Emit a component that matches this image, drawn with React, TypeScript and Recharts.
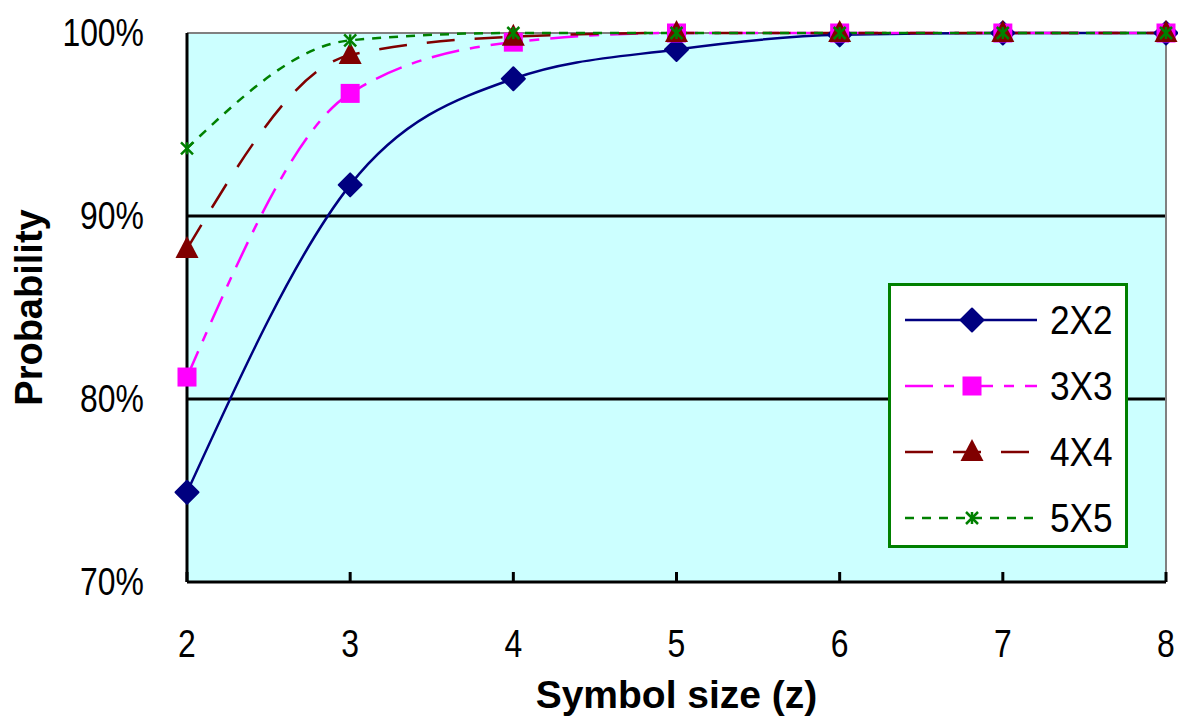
import {
	LineChart,
	Line,
	XAxis,
	YAxis,
	CartesianGrid,
	ReferenceLine,
	Legend,
} from "recharts";

const sizes = [2, 3, 4, 5, 6, 7, 8];
const p2x2 = [0.749, 0.917, 0.975, 0.991, 0.999, 1.0, 1.0];
const p3x3 = [0.812, 0.967, 0.995, 1.0, 1.0, 1.0, 1.0];
const p4x4 = [0.882, 0.988, 0.998, 1.0, 1.0, 1.0, 1.0];
const p5x5 = [0.937, 0.996, 1.0, 1.0, 1.0, 1.0, 1.0];
const yTicks = [0.7, 0.8, 0.9, 1.0];
const seriesNames = ["2X2", "3X3", "4X4", "5X5"];

const data = sizes.map((z, i) => ({
	z,
	s2: p2x2[i],
	s3: p3x3[i],
	s4: p4x4[i],
	s5: p5x5[i],
}));

const NAVY = "#000080";
const MAGENTA = "#FF00FF";
const MAROON = "#800000";
const GREEN = "#008000";
const font = "'Liberation Sans', Arial, sans-serif";

// the original labels are a bit narrower than Arial, so squeeze them
const squeeze = (x: number, y: number, k = 0.84) =>
	`translate(${x} ${y}) scale(${k} 1) translate(${-x} ${-y})`;

function XTick({ x, y, payload }: any) {
	return (
		<text
			x={x}
			y={y}
			dy="0.71em"
			textAnchor="middle"
			fontFamily={font}
			fontSize={38}
			fill="#000"
			transform={squeeze(x, y)}
		>
			{payload.value}
		</text>
	);
}

function YTick({ x, y, payload }: any) {
	return (
		<text
			x={x}
			y={y}
			dy="0.355em"
			textAnchor="end"
			fontFamily={font}
			fontSize={38}
			fill="#000"
			transform={squeeze(x, y)}
		>
			{`${Math.round(payload.value * 100)}%`}
		</text>
	);
}

function Diamond({ cx, cy }: { cx: number; cy: number }) {
	const r = 11.5;
	return (
		<polygon
			points={`${cx},${cy - r} ${cx + r},${cy} ${cx},${cy + r} ${cx - r},${cy}`}
			fill={NAVY}
			stroke={NAVY}
			strokeWidth={2}
			strokeLinejoin="round"
		/>
	);
}

function Square({ cx, cy }: { cx: number; cy: number }) {
	return <rect x={cx - 9.5} y={cy - 9.5} width={19} height={19} fill={MAGENTA} />;
}

function Triangle({ cx, cy }: { cx: number; cy: number }) {
	return (
		<polygon
			points={`${cx},${cy - 13} ${cx + 11.5},${cy + 9} ${cx - 11.5},${cy + 9}`}
			fill={MAROON}
		/>
	);
}

function Star({ cx, cy }: { cx: number; cy: number }) {
	const r = 6;
	return (
		<g stroke={GREEN} strokeWidth={2.5}>
			<line x1={cx - r} y1={cy - r} x2={cx + r} y2={cy + r} />
			<line x1={cx - r} y1={cy + r} x2={cx + r} y2={cy - r} />
			<line x1={cx} y1={cy - r} x2={cx} y2={cy + r} />
		</g>
	);
}

const markers = [Diamond, Square, Triangle, Star];
const colors = [NAVY, MAGENTA, MAROON, GREEN];
const dashes = ["", "28 11 10 11", "28 20", "9 8"];

function makeDot(i: number) {
	const Marker = markers[i];
	return (props: any) => (
		<Marker key={`m${i}-${props.index}`} cx={props.cx} cy={props.cy} />
	);
}

function LegendBox() {
	const rows = [37, 103, 169, 235];
	return (
		<div
			style={{
				width: 240,
				height: 265,
				boxSizing: "border-box",
				border: `3px solid ${GREEN}`,
				background: "#fff",
			}}
		>
			<svg width={234} height={259} style={{ display: "block" }}>
				{seriesNames.map((name, i) => {
					const Marker = markers[i];
					const y = rows[i] - 3;
					return (
						<g key={name}>
							<line
								x1={14}
								x2={146}
								y1={y}
								y2={y}
								stroke={colors[i]}
								strokeWidth={2.5}
								strokeDasharray={dashes[i] || undefined}
							/>
							<Marker cx={81} cy={y} />
							<text
								x={159}
								y={y + 14}
								fontFamily={font}
								fontSize={40}
								fill="#000"
								transform={squeeze(159, y + 14, 0.88)}
							>
								{name}
							</text>
						</g>
					);
				})}
			</svg>
		</div>
	);
}

export default function App() {
	const keys = ["s2", "s3", "s4", "s5"];
	return (
		<div style={{ position: "absolute", left: 0, top: 0, background: "#fff" }}>
			<LineChart
				width={1178}
				height={720}
				data={data}
				margin={{ top: 33, right: 12, left: 0, bottom: 0 }}
			>
				<CartesianGrid horizontal={false} vertical={false} fill="#CCFFFF" />
				<XAxis
					dataKey="z"
					type="number"
					domain={[2, 8]}
					ticks={sizes}
					height={138}
					axisLine={{ stroke: "#000", strokeWidth: 3 }}
					tickLine={{ stroke: "#000", strokeWidth: 3 }}
					tickSize={-10}
					tickMargin={58}
					tick={<XTick />}
					label={{
						value: "Symbol size (z)",
						position: "insideBottom",
						offset: 12,
						style: {
							fontFamily: font,
							fontSize: 39,
							fontWeight: "bold",
							fill: "#000",
						},
					}}
				/>
				<YAxis
					domain={[0.7, 1]}
					ticks={yTicks}
					width={187}
					axisLine={{ stroke: "#000", strokeWidth: 3 }}
					tickLine={false}
					tickMargin={37}
					tick={<YTick />}
					label={{
						value: "Probability",
						angle: -90,
						position: "insideLeft",
						offset: 29,
						style: {
							fontFamily: font,
							fontSize: 38,
							fontWeight: "bold",
							fill: "#000",
							textAnchor: "middle",
						},
					}}
				/>
				<ReferenceLine y={0.8} stroke="#000" strokeWidth={3} />
				<ReferenceLine y={0.9} stroke="#000" strokeWidth={3} />
				<ReferenceLine y={1.0} stroke="#808080" strokeWidth={2} />
				<ReferenceLine x={8} stroke="#808080" strokeWidth={2} />
				<Legend
					content={() => <LegendBox />}
					verticalAlign="middle"
					align="center"
					wrapperStyle={{ left: 888, top: 283, width: 240, height: 265 }}
				/>
				{keys.map((k, i) => (
					<Line
						key={k}
						dataKey={k}
						name={seriesNames[i]}
						type="monotone"
						stroke={colors[i]}
						strokeWidth={2.5}
						strokeDasharray={dashes[i] || undefined}
						dot={makeDot(i)}
						activeDot={false}
						isAnimationActive={false}
					/>
				))}
			</LineChart>
		</div>
	);
}
